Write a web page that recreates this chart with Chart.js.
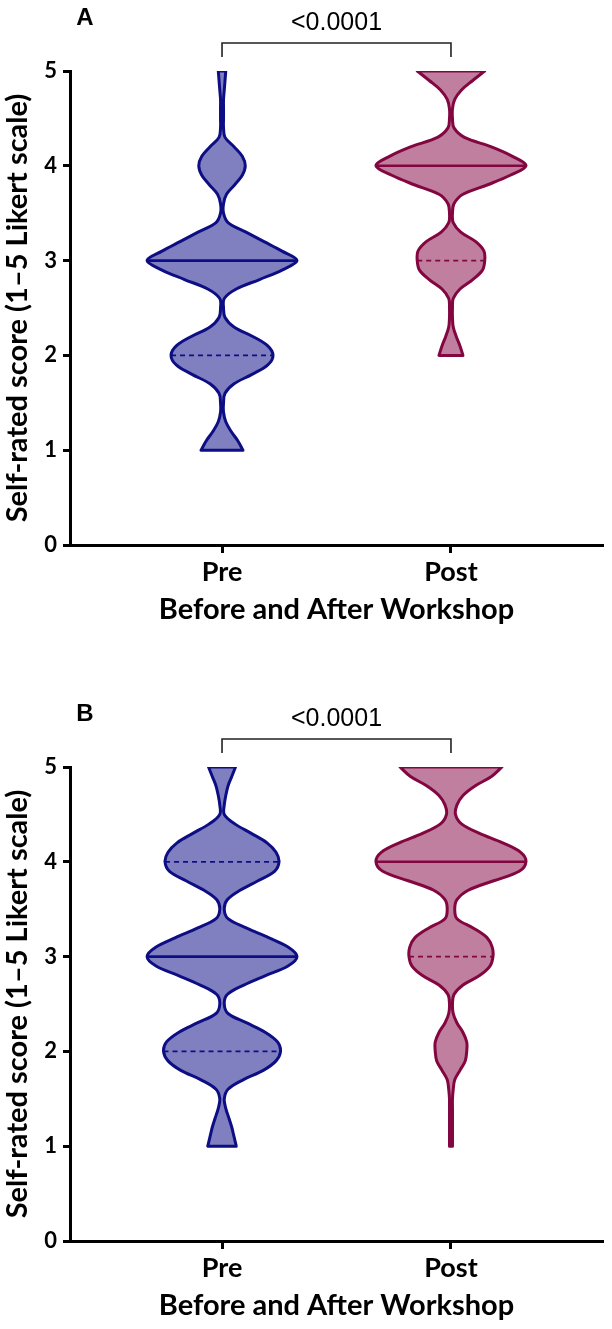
<!DOCTYPE html>
<html><head><meta charset="utf-8">
<script src="https://cdn.jsdelivr.net/npm/chart.js@4.4.1/dist/chart.umd.min.js"></script>
<style>
html,body{margin:0;padding:0;background:#fff;width:612px;height:1329px;overflow:hidden}
canvas{display:block}
#wa{position:absolute;left:0;top:0;width:612px;height:696px}
#wb{position:absolute;left:0;top:696px;width:612px;height:633px}
</style></head><body>
<div id="wa"><canvas id="ca"></canvas></div>
<div id="wb"><canvas id="cb"></canvas></div>
<script>
// ---------- data ----------
const categories = ['Pre', 'Post'];
const yTicks = [0, 1, 2, 3, 4, 5];
const panelLetters = ['A', 'B'];
const pValues = ['<0.0001', '<0.0001'];
const yTitle = 'Self-rated score (1\u20135 Likert scale)';
const xTitle = 'Before and After Workshop';

// score levels at which violin widths were read (1.0 .. 5.0)
const levels = [1.0,1.1,1.2,1.3,1.4,1.5,1.6,1.7,1.8,1.9,
                2.0,2.1,2.2,2.3,2.4,2.5,2.6,2.7,2.8,2.9,
                3.0,3.1,3.2,3.3,3.4,3.5,3.6,3.7,3.8,3.9,
                4.0,4.1,4.2,4.3,4.4,4.5,4.6,4.7,4.8,4.9,5.0];

// relative violin widths (% of widest point) at each level
const preA  = [28,21,12,5,2,2,4,16,40,61,
               68,61,41,16,4,2,3,19,50,80,
               100,80,56,32,8,2,2,6,17,27,
               31,27,16,4,2,2,2,2,3,4,5];
const postA = [null,null,null,null,null,null,null,null,null,null,
               16,12,7,3,2,2,3,12,29,42,
               45,44,33,13,3,2,4,16,49,79,
               100,82,54,18,4,2,2,5,14,29,45];
const preB  = [19,16,13,9,5,3,8,28,55,72,
               78,74,58,33,8,3,7,29,58,88,
               100,88,62,33,8,3,7,24,48,70,
               76,72,60,39,17,3,3,5,8,13,18];
const postB = [2,2,2,2,2,2,3,5,12,19,
               21,21,16,8,3,2,4,16,38,52,
               56,55,48,30,8,5,8,23,57,91,
               100,93,69,38,14,6,8,16,32,54,68];

const medianA = [3, 4];
const q1A = [2, 3];
const q3A = [3, 4];
const medianB = [3, 4];
const q1B = [2, 3];
const q3B = [4, 4];

// ---------- styles ----------
const HALF = 0.3275;           // max half width in x units
const strokeCols = ['#0e0e84', '#82063f'];
const fillCols = ['#8080c1', '#c17fa0'];
const FONT_BOLD = 'Lato';

function idxOf(v){ return Math.round((v - levels[0]) * 10); }

function violinPoints(c, dens){
  const right = [], left = [];
  levels.forEach((y, i) => { if (dens[i] != null) right.push({x: c + dens[i] / 100 * HALF, y}); });
  for (let i = levels.length - 1; i >= 0; i--) {
    if (dens[i] != null) left.push({x: c - dens[i] / 100 * HALF, y: levels[i]});
  }
  // duplicate corner points to keep flat ends straight
  return [right[0], ...right, right[right.length-1], left[0], ...left, left[left.length-1], right[0], right[0]];
}

function hLine(c, dens, v){
  const w = dens[idxOf(v)] / 100 * HALF;
  return [{x: c - w, y: v}, {x: c + w, y: v}];
}

function buildDatasets(densList, med, q1, q3){
  const ds = [];
  densList.forEach((dens, c) => {
    ds.push({data: hLine(c, dens, med[c]), borderColor: strokeCols[c], borderWidth: 2.6, showLine: true, pointRadius: 0, fill: false, tension: 0});
    [q1[c], q3[c]].forEach(q => {
      if (q !== med[c]) ds.push({data: hLine(c, dens, q), borderColor: strokeCols[c], borderWidth: 1.7, borderDash: [5, 4], showLine: true, pointRadius: 0, fill: false, tension: 0});
    });
  });
  densList.forEach((dens, c) => {
    ds.push({data: violinPoints(c, dens), borderColor: strokeCols[c], backgroundColor: fillCols[c], borderWidth: 3,
      showLine: true, pointRadius: 0, fill: 'shape', tension: 0.35, borderJoinStyle: 'round', borderCapStyle: 'round'});
  });
  return ds;
}

const annot = {
  id: 'annot',
  afterDraw(chart, args, opts){
    const {ctx, scales: {x, y}} = chart;
    const x0 = x.getPixelForValue(0), x1 = x.getPixelForValue(1);
    const top = y.getPixelForValue(5);
    const by = top - 28, bh = 14;
    ctx.save();
    ctx.strokeStyle = '#222'; ctx.lineWidth = 1.6;
    ctx.beginPath(); ctx.moveTo(x0, by + bh); ctx.lineTo(x0, by); ctx.lineTo(x1, by); ctx.lineTo(x1, by + bh); ctx.stroke();
    ctx.fillStyle = '#000'; ctx.textAlign = 'center'; ctx.textBaseline = 'middle';
    ctx.font = '25px "Liberation Sans"';
    ctx.fillText(opts.pText, (x0 + x1) / 2, by - 20);
    ctx.font = 'bold 24px "Liberation Sans"';
    ctx.fillText(opts.letter, 85, by - 25);
    ctx.restore();
  }
};

function makeChart(canvasId, canvasH, k, datasets){
  const XH = 82;
  return new Chart(document.getElementById(canvasId), {
    type: 'scatter',
    data: {datasets},
    options: {
      responsive: true, maintainAspectRatio: false, animation: false,
      layout: {padding: {top: 71, right: 9, left: 0, bottom: canvasH - 545 - XH}},
      plugins: {legend: {display: false}, tooltip: {enabled: false},
        annot: {letter: panelLetters[k], pText: pValues[k]}},
      scales: {
        x: {type: 'linear', min: -0.664, max: 1.664,
          afterBuildTicks: s => { s.ticks = categories.map((c, i) => ({value: i})); },
          ticks: {callback: v => categories[v], color: '#000', font: {family: FONT_BOLD, weight: 'bold', size: 27}, padding: 3, autoSkip: false, maxRotation: 0},
          border: {display: true, width: 3, color: '#000'},
          grid: {display: true, drawOnChartArea: false, drawTicks: true, tickLength: 8, tickWidth: 3, color: '#000'},
          title: {display: true, text: xTitle, color: '#000', font: {family: FONT_BOLD, weight: 'bold', size: 29}, padding: {top: 0, bottom: 0}},
          afterFit: s => { s.height = XH; }
        },
        y: {min: 0, max: 5,
          afterBuildTicks: s => { s.ticks = yTicks.map(v => ({value: v})); },
          ticks: {color: '#000', font: {family: FONT_BOLD, weight: 'bold', size: 22}, padding: 6},
          border: {display: true, width: 3, color: '#000'},
          grid: {display: true, drawOnChartArea: false, drawTicks: true, tickLength: 7, tickWidth: 3, color: '#000'},
          title: {display: true, text: yTitle, color: '#000', font: {family: FONT_BOLD, weight: 'bold', size: 29}, padding: {top: 0, bottom: 0}},
          afterFit: s => { s.width = 70; }
        }
      }
    },
    plugins: [annot]
  });
}

makeChart('ca', 696, 0, buildDatasets([preA, postA], medianA, q1A, q3A));
makeChart('cb', 633, 1, buildDatasets([preB, postB], medianB, q1B, q3B));
</script>
</body></html>
